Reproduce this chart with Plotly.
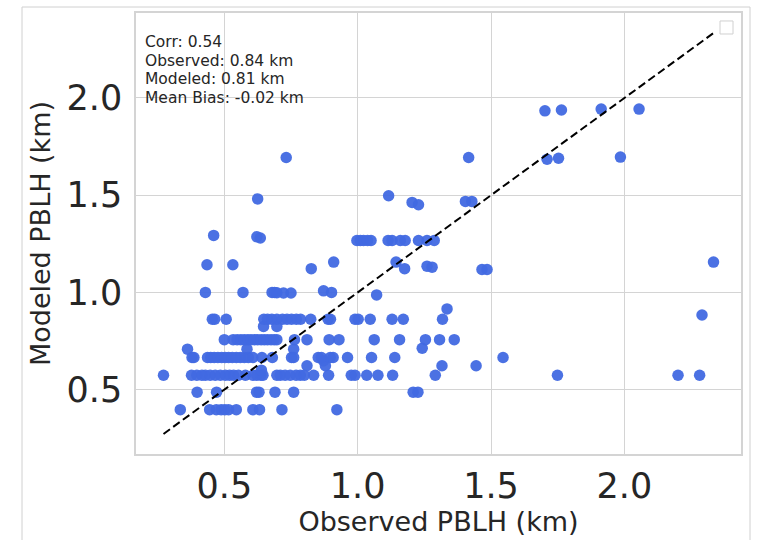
import plotly.graph_objects as go

# Observed vs modeled planetary boundary layer height (km)
obs_km = [
    # ~0.40 km modeled
    0.335, 0.445, 0.470, 0.488, 0.502, 0.516, 0.545, 0.607, 0.632, 0.716, 0.922,
    # ~0.49 km
    0.398, 0.471, 0.621, 0.630, 0.690, 0.760, 1.208, 1.226,
    # ~0.57 km
    0.272, 0.377, 0.397, 0.416, 0.429, 0.447, 0.466, 0.485, 0.504, 0.520, 0.535,
    0.553, 0.579, 0.607, 0.622, 0.637, 0.645, 0.697, 0.710, 0.728, 0.747, 0.769,
    0.785, 0.800, 0.835, 0.891, 0.976, 0.990, 1.034, 1.076, 1.131, 1.291, 1.749,
    2.201, 2.282,
    # in-between
    0.639, 0.810, 0.879, 0.872, 1.316, 1.444, 0.362, 0.585, 0.760, 1.242, 0.647,
    0.697, 1.335, 2.291,
    # ~0.67 km
    0.379, 0.386, 0.437, 0.449, 0.462, 0.476, 0.490, 0.503, 0.516, 0.530, 0.545,
    0.560, 0.575, 0.590, 0.607, 0.641, 0.680, 0.752, 0.760, 0.852, 0.864, 0.897,
    0.908, 0.962, 1.052, 1.139, 1.545,
    # ~0.76 km
    0.500, 0.533, 0.548, 0.562, 0.575, 0.588, 0.600, 0.613, 0.625, 0.638, 0.650,
    0.662, 0.675, 0.687, 0.697, 0.763, 0.810, 0.893, 0.930, 1.062, 1.157, 1.254,
    1.307, 1.362,
    # ~0.86 km
    0.455, 0.464, 0.507, 0.648, 0.662, 0.678, 0.697, 0.718, 0.735, 0.752, 0.770,
    0.786, 0.824, 0.889, 0.898, 0.990, 1.002, 1.047, 1.129, 1.171, 1.318,
    # ~1.0 km
    0.429, 0.570, 0.679, 0.688, 0.697, 0.722, 0.750, 0.872, 0.902, 1.071,
    # ~1.13 km
    0.435, 0.532, 0.826, 0.910, 1.144, 1.176, 1.260, 1.279, 1.466, 1.485, 2.334,
    # ~1.27 km
    0.460, 0.622, 0.635, 0.997, 1.010, 1.022, 1.037, 1.050, 1.114, 1.129, 1.160,
    1.178, 1.228, 1.260, 1.287,
    # upper
    0.625, 1.116, 1.204, 1.228, 1.404, 1.428, 0.732, 1.416, 1.710, 1.753, 1.985,
    1.702, 1.764, 1.913, 2.055,
]

mod_km = (
    [0.397] * 11
    + [0.487] * 8
    + [0.574] * 35
    + [0.600, 0.623, 0.623, 0.649, 0.623, 0.623, 0.708, 0.708, 0.708, 0.713, 0.825,
       0.825, 0.915, 0.884]
    + [0.665] * 27
    + [0.757] * 24
    + [0.862] * 21
    + [1.000, 1.000, 1.000, 1.000, 0.998, 0.997, 0.997, 1.008, 1.000, 0.987]
    + [1.142, 1.142, 1.122, 1.156, 1.156, 1.122, 1.135, 1.130, 1.118, 1.118, 1.156]
    + [1.293, 1.286, 1.280] + [1.267] * 12
    + [1.481, 1.497, 1.463, 1.451, 1.468, 1.468, 1.694, 1.694, 1.685, 1.690, 1.696,
       1.934, 1.938, 1.943, 1.943]
)

stat_labels = ["Corr: 0.54", "Observed: 0.84 km", "Modeled: 0.81 km", "Mean Bias: -0.02 km"]

lo, hi = min(obs_km), max(obs_km)
pad = 0.05 * (hi - lo)
axis_range = [lo - pad, hi + pad]

FONT = "DejaVu Sans"
TEXT = "#262626"
GRID = "#d4d4d4"

fig = go.Figure()
fig.add_trace(go.Scatter(
    x=obs_km, y=mod_km, mode="markers",
    marker=dict(color="#4169E1", size=11.5, opacity=0.95, line=dict(width=0)),
    showlegend=False,
))
# 1:1 reference line across the observed range
fig.add_trace(go.Scatter(
    x=[lo, hi], y=[lo, hi], mode="lines",
    line=dict(color="black", width=2, dash="8px,4px"),
    showlegend=False,
))

axis_common = dict(
    range=axis_range, tickvals=[0.5, 1.0, 1.5, 2.0], ticktext=["0.5", "1.0", "1.5", "2.0"],
    showgrid=True, gridcolor=GRID, gridwidth=1, zeroline=False,
    showline=True, linecolor=GRID, linewidth=1.5, mirror=True,
    ticks="", tickfont=dict(family=FONT, size=35, color=TEXT),
    title_font=dict(family=FONT, size=27, color=TEXT),
)
fig.update_xaxes(**axis_common, title_text="Observed PBLH (km)", title_standoff=6)
fig.update_yaxes(**axis_common, title_text="Modeled PBLH (km)", title_standoff=8,
                 ticklabelstandoff=5)

# statistics box in the upper-left corner
shapes = [
    dict(type="rect", xref="paper", yref="paper", x0=0.0, x1=0.2926, y0=0.773, y1=0.968,
         fillcolor="white", line=dict(width=0), layer="between"),
    # empty legend frame, upper right
    dict(type="rect", xref="paper", yref="paper", x0=0.9653, x1=0.9868, y0=0.9524, y1=0.9819,
         fillcolor="white", line=dict(color="#d0d0d0", width=1)),
    # figure frame
    dict(type="rect", xref="paper", yref="paper", x0=-0.1884, x1=1.0149, y0=-0.206, y1=1.0136,
         fillcolor="rgba(0,0,0,0)", line=dict(color="#d0d0d0", width=1), layer="below"),
]
line_y = [0.9336, 0.8918, 0.8503, 0.8066]
annotations = [
    dict(text=t, xref="paper", yref="paper", x=0.0116, y=yy, xanchor="left", yanchor="middle",
         showarrow=False, font=dict(family=FONT, size=15.5, color=TEXT))
    for t, yy in zip(stat_labels, line_y)
]

fig.update_layout(
    width=759, height=540,
    margin=dict(l=136, r=18, t=13, b=86, autoexpand=False),
    paper_bgcolor="white", plot_bgcolor="white",
    template="none",
    shapes=shapes, annotations=annotations,
    showlegend=False,
)

fig.write_html("out.html")
